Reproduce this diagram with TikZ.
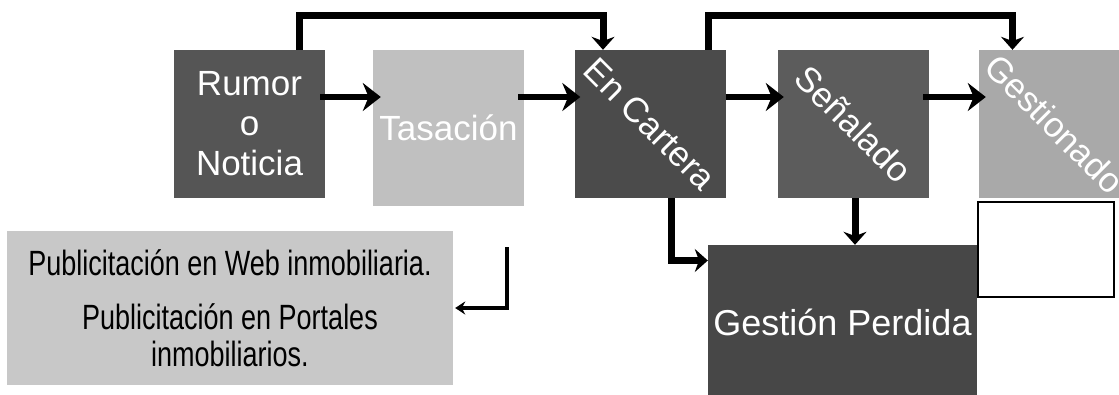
\documentclass[tikz,border=0pt]{standalone}
\usepackage{fontspec}
\setmainfont{Liberation Sans}
\usepackage{graphicx}
\usetikzlibrary{arrows.meta}

\definecolor{rumorgray}{HTML}{555555}
\definecolor{tasagray}{HTML}{C0C0C0}
\definecolor{carteragray}{HTML}{4B4B4B}
\definecolor{senalgray}{HTML}{5C5C5C}
\definecolor{gestgray}{HTML}{A9A9A9}
\definecolor{perdgray}{HTML}{474747}
\definecolor{pubgray}{HTML}{C8C8C8}

\newcommand{\tallline}[1]{\scalebox{1}[1.3]{#1}}

\tikzset{
  stage/.style={rectangle, inner sep=0pt, minimum width=151pt, minimum height=148pt,
    text=white, align=center, font=\fontsize{35}{40}\selectfont},
  flow/.style={line width=6.5pt, -{Stealth[length=18pt,width=28pt]}},
  loop/.style={line width=7pt, -{Stealth[length=13pt,width=23pt]}},
  thin flow/.style={line width=4.5pt, -{Stealth[length=10pt,width=13pt]}},
}

\begin{document}
\begin{tikzpicture}[x=1pt,y=-1pt]
  \useasboundingbox (0,0) rectangle (1119,394);
  \clip (0,0) rectangle (1119,394);
  \draw
    (249.5,124) node[stage, fill=rumorgray] (rumor) {Rumor\\o\\Noticia}
    (448.5,128) node[stage, fill=tasagray, minimum height=156pt] (tasacion) {Tasación}
    (650,124) node[stage, fill=carteragray] (cartera) {\rotatebox{-45}{En Cartera}}
    (853.5,124) node[stage, fill=senalgray] (senalado) {\rotatebox{-45}{Señalado}}
    (1054.5,124) node[stage, fill=gestgray] (gestionado) {\rotatebox{-45}{Gestionado}}
    (842.5,322.5) node[stage, fill=perdgray, minimum width=269pt, minimum height=155pt,
      font=\fontsize{36}{40}\selectfont] (perdida) {Gestión Perdida}
    (1046,249.5) node[rectangle, draw=black, line width=1.5pt, fill=white, minimum width=136pt, minimum height=95pt] (blank) {}
    (230,308) node[rectangle, fill=pubgray, inner sep=0pt, minimum width=446pt, minimum height=154pt,
      align=center, font=\fontsize{27}{32}\selectfont] (pub)
      {\tallline{Publicitación en Web inmobiliaria.}\\[22pt]\tallline{Publicitación en Portales}\\[5pt]\tallline{inmobiliarios.}};
  \coordinate (elbow) at (507,247);
  \begin{scope}
    \draw[flow, shorten <=-5pt, shorten >=-8pt] ([yshift=27pt]rumor.east) -- ([yshift=31pt]tasacion.west);
    \draw[flow, shorten <=-6pt, shorten >=-6pt] ([yshift=31pt]tasacion.east) -- ([yshift=27pt]cartera.west);
    \draw[flow, shorten >=-6pt] ([yshift=27pt]cartera.east) -- ([yshift=27pt]senalado.west);
    \draw[flow, shorten <=-6pt, shorten >=-7pt] ([yshift=27pt]senalado.east) -- ([yshift=27pt]gestionado.west);
    \draw[loop] ([xshift=50pt]rumor.north) -- ++(0,-34) -| ([xshift=-47pt]cartera.north);
    \draw[loop] ([xshift=58pt]cartera.north) -- ++(0,-34) -| ([xshift=-42pt]gestionado.north);
    \draw[loop] ([xshift=21pt]cartera.south) |- ([yshift=62pt]perdida.west);
    \draw[loop] ([xshift=1.5pt]senalado.south) -- ([xshift=12.5pt]perdida.north);
    \draw[thin flow] (elbow) |- ([xshift=2pt]pub.east);
  \end{scope}
\end{tikzpicture}
\end{document}
